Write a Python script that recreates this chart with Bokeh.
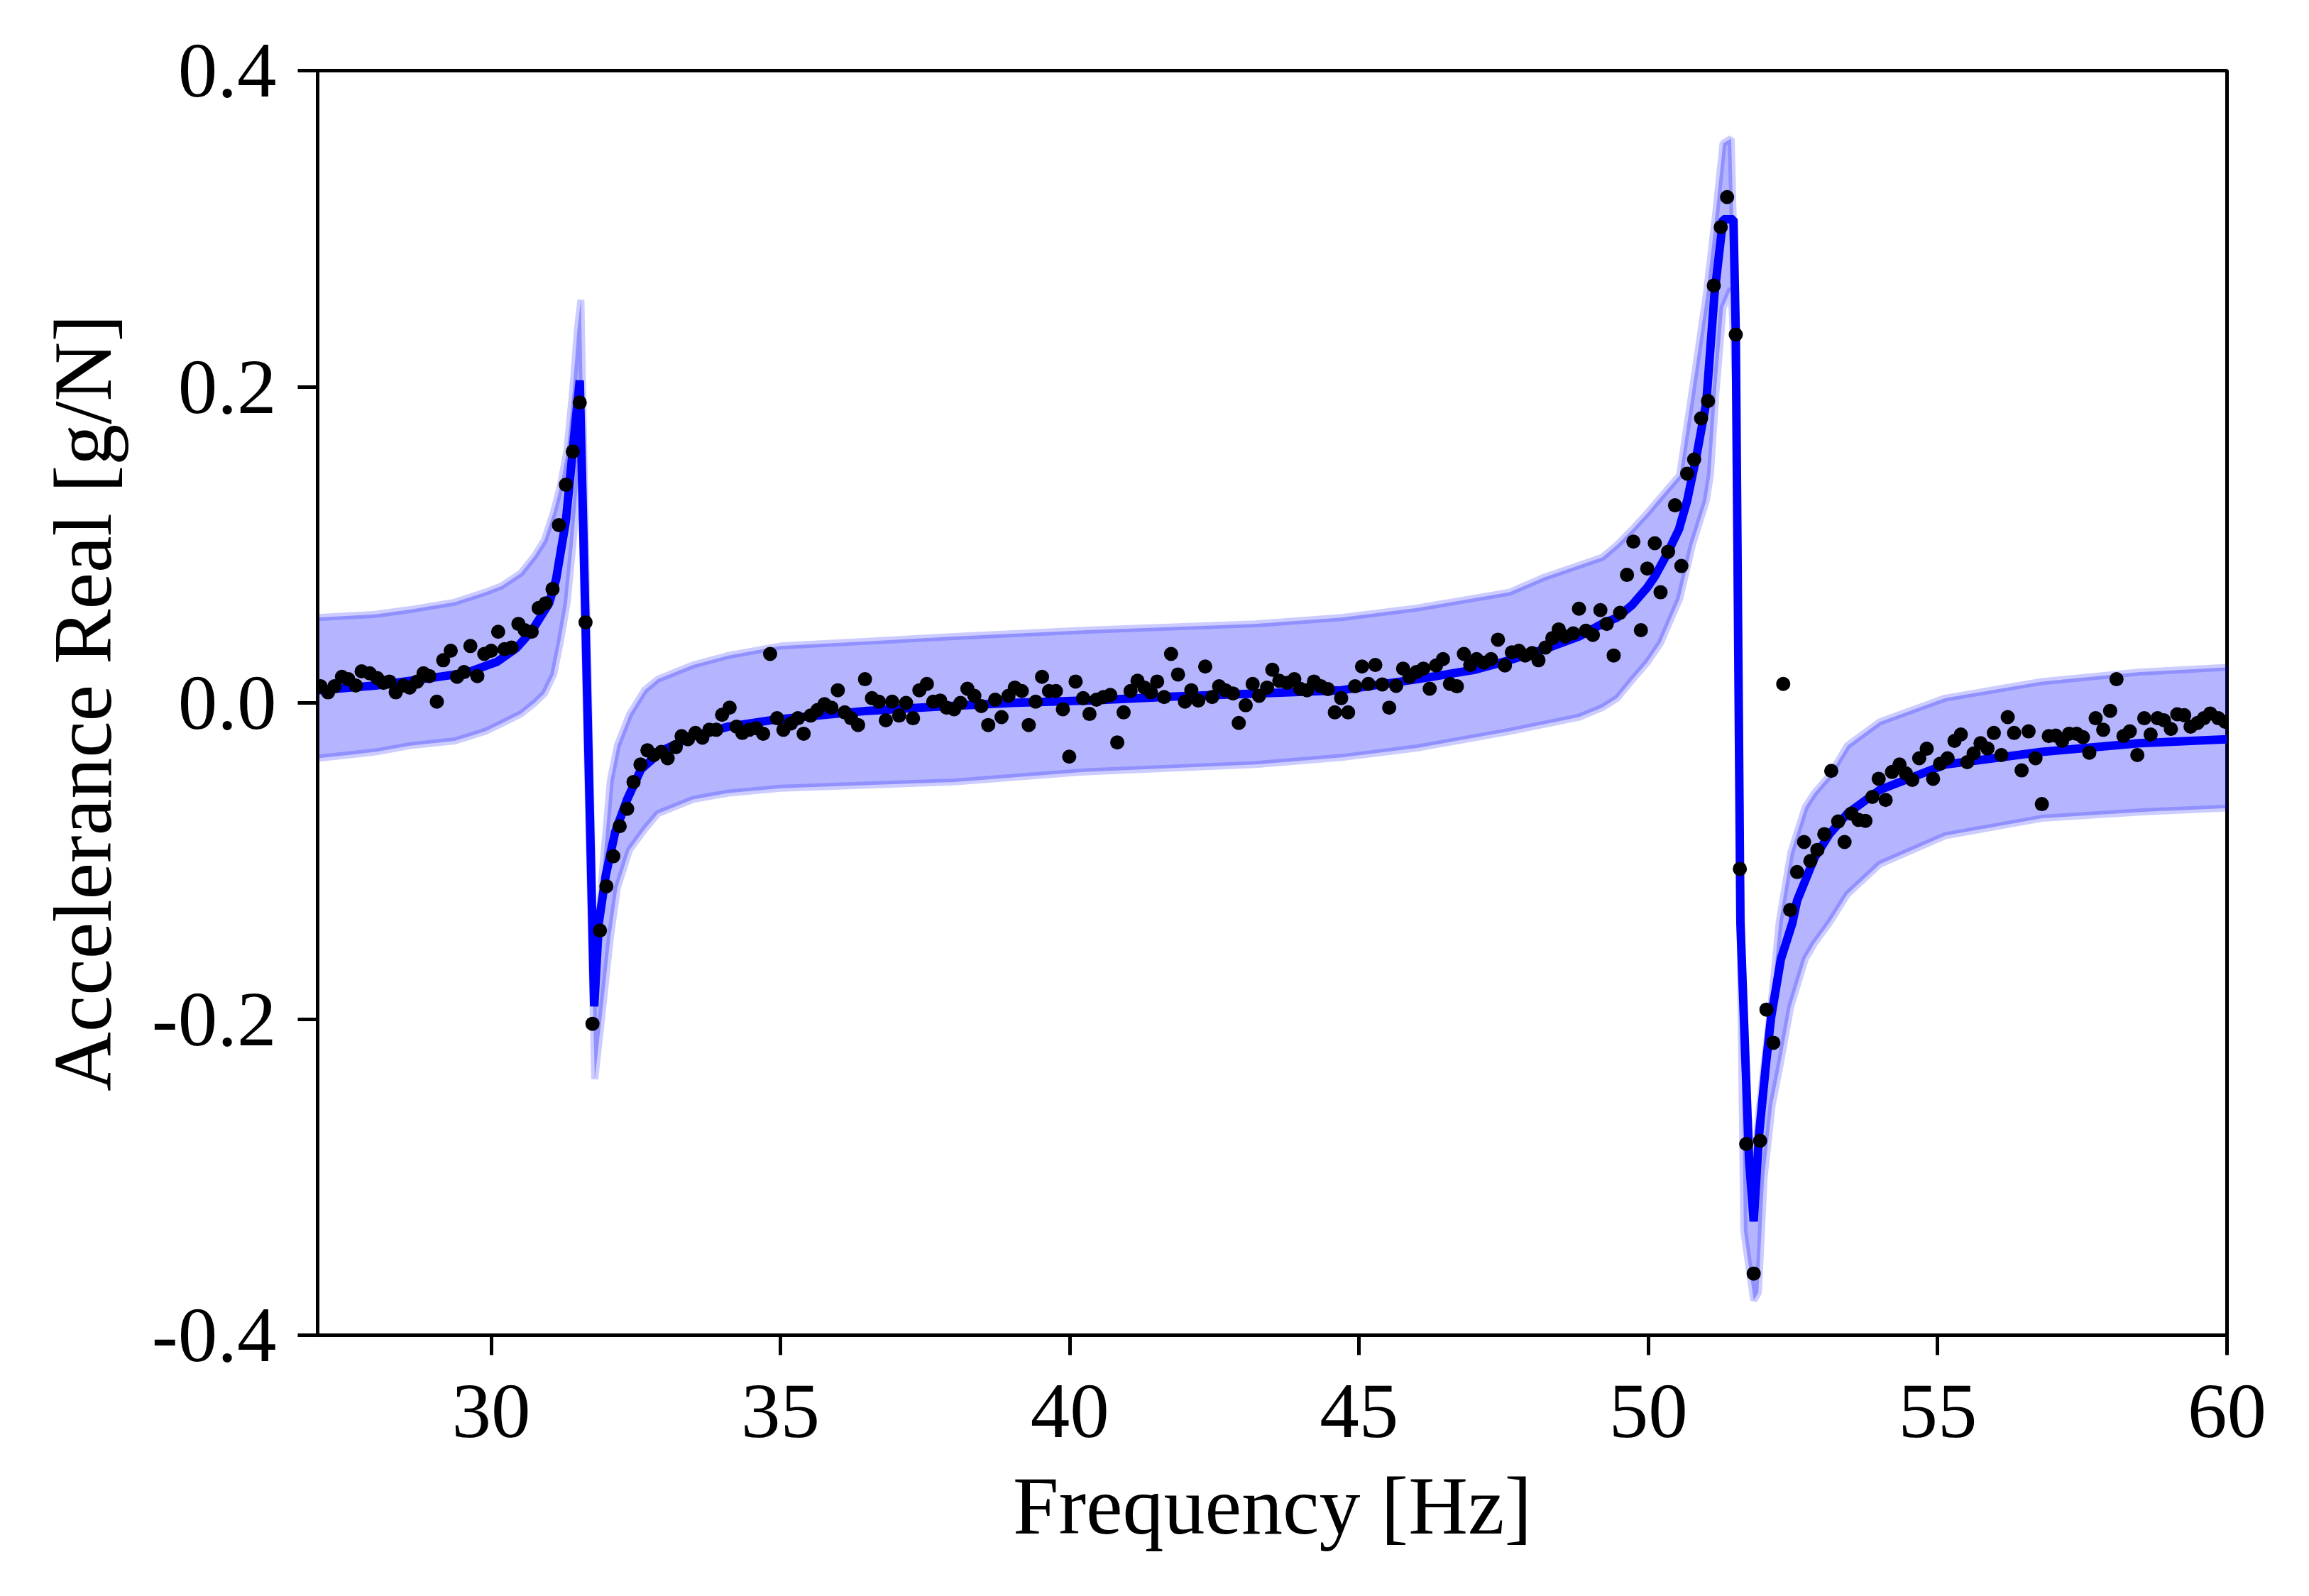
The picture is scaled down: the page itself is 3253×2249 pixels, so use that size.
from bokeh.plotting import figure
from bokeh.models import Range1d, FixedTicker, PrintfTickFormatter
from bokeh.embed import file_html
from bokeh.resources import INLINE

# ---------------- data ----------------
freq = [27.05, 27.18, 27.29, 27.42, 27.53, 27.66, 27.76, 27.90, 28.03, 28.14, 28.24, 28.35, 28.48, 28.59,
        28.72, 28.83, 28.93, 29.06, 29.17, 29.30, 29.41, 29.53, 29.64, 29.76, 29.88, 30.00, 30.12, 30.23,
        30.35, 30.47, 30.58, 30.70, 30.82, 30.94, 31.06, 31.17, 31.29, 31.41, 31.53, 31.63, 31.75, 31.88,
        31.99, 32.11, 32.22, 32.35, 32.46, 32.58, 32.70, 32.81, 32.94, 33.05, 33.19, 33.29, 33.40, 33.53,
        33.65, 33.77, 33.89, 33.99, 34.12, 34.24, 34.34, 34.46, 34.58, 34.70, 34.82, 34.94, 35.05, 35.18,
        35.30, 35.40, 35.52, 35.64, 35.76, 35.88, 35.99, 36.11, 36.22, 36.34, 36.46, 36.58, 36.70, 36.82,
        36.93, 37.05, 37.17, 37.29, 37.40, 37.53, 37.64, 37.76, 37.87, 38.00, 38.11, 38.23, 38.35, 38.47,
        38.59, 38.71, 38.82, 38.94, 39.05, 39.17, 39.29, 39.41, 39.52, 39.64, 39.76, 39.88, 39.99, 40.10,
        40.23, 40.34, 40.46, 40.58, 40.70, 40.82, 40.93, 41.05, 41.17, 41.29, 41.40, 41.51, 41.63, 41.75,
        41.87, 41.99, 42.10, 42.22, 42.34, 42.46, 42.58, 42.69, 42.82, 42.92, 43.04, 43.16, 43.27, 43.41,
        43.50, 43.62, 43.76, 43.88, 43.98, 44.10, 44.22, 44.34, 44.46, 44.58, 44.69, 44.81, 44.93, 45.05,
        45.16, 45.28, 45.40, 45.52, 45.64, 45.76, 45.87, 45.99, 46.11, 46.22, 46.33, 46.45, 46.57, 46.69,
        46.81, 46.92, 47.03, 47.16, 47.28, 47.40, 47.52, 47.64, 47.76, 47.87, 47.99, 48.10, 48.22, 48.34,
        48.45, 48.56, 48.70, 48.80, 48.92, 49.04, 49.17, 49.28, 49.40, 49.51, 49.63, 49.74, 49.87, 49.98,
        50.11, 50.21, 50.34, 50.46, 50.57, 50.67, 50.79, 50.91, 51.03, 51.13, 51.25, 51.36, 51.51, 51.58,
        51.69, 51.82, 51.93, 52.04, 52.16, 52.33, 52.45, 52.57, 52.69, 52.80, 52.92, 53.04, 53.16, 53.28,
        53.39, 53.51, 53.63, 53.75, 53.87, 53.98, 54.10, 54.21, 54.34, 54.45, 54.56, 54.68, 54.81, 54.92,
        55.04, 55.17, 55.29, 55.40, 55.51, 55.62, 55.74, 55.86, 55.97, 56.10, 56.21, 56.32, 56.45, 56.57,
        56.69, 56.80, 56.92, 57.04, 57.15, 57.27, 57.40, 57.51, 57.62, 57.73, 57.86, 57.98, 58.09, 58.21,
        58.32, 58.45, 58.57, 58.68, 58.80, 58.91, 59.03, 59.14, 59.26, 59.37, 59.49, 59.60, 59.71, 59.85,
        59.97]
accel = [0.0105, 0.0067, 0.0105, 0.0165, 0.015, 0.011, 0.020, 0.0187, 0.0157, 0.0127, 0.0135, 0.0067, 0.011, 0.0097,
         0.0135, 0.0187, 0.017, 0.0008, 0.027, 0.033, 0.0165, 0.0195, 0.036, 0.017, 0.031, 0.033, 0.045, 0.034,
         0.035, 0.050, 0.046, 0.045, 0.060, 0.063, 0.072, 0.1125, 0.138, 0.159, 0.190, 0.051, -0.203, -0.144,
         -0.116, -0.097, -0.078, -0.067, -0.050, -0.039, -0.030, -0.033, -0.031, -0.035, -0.028, -0.021, -0.023, -0.019,
         -0.022, -0.017, -0.017, -0.0075, -0.003, -0.015, -0.019, -0.017, -0.016, -0.0195, 0.031, -0.0097, -0.017, -0.013,
         -0.0097, -0.0195, -0.008, -0.0045, -0.0008, -0.003, 0.008, -0.006, -0.0097, -0.014, 0.015, 0.003, 0.0008, -0.011,
         0.0008, -0.008, 0.0, -0.0097, 0.008, 0.012, 0.0008, 0.0015, -0.003, -0.004, 0.0, 0.009, 0.0045, -0.002,
         -0.014, 0.002, -0.009, 0.0045, 0.0097, 0.0075, -0.014, 0.0008, 0.0165, 0.0075, 0.0075, -0.004, -0.034, 0.0135,
         0.003, -0.007, 0.002, 0.0037, 0.005, -0.025, -0.006, 0.0075, 0.014, 0.0097, 0.0067, 0.0135, 0.0037, 0.031,
         0.018, 0.0008, 0.008, 0.0015, 0.023, 0.0037, 0.0105, 0.008, 0.006, -0.0127, -0.0015, 0.012, 0.0045, 0.0097,
         0.021, 0.014, 0.0127, 0.015, 0.009, 0.008, 0.0135, 0.0105, 0.0087, -0.006, 0.003, -0.006, 0.0105, 0.023,
         0.012, 0.024, 0.0117, -0.003, 0.0108, 0.0217, 0.0165, 0.0195, 0.0217, 0.009, 0.0237, 0.0277, 0.012, 0.0105,
         0.031, 0.024, 0.0277, 0.0255, 0.0277, 0.040, 0.0237, 0.032, 0.033, 0.030, 0.0315, 0.027, 0.035, 0.041,
         0.0465, 0.042, 0.044, 0.0596, 0.0457, 0.043, 0.0587, 0.050, 0.030, 0.057, 0.081, 0.102, 0.046, 0.085,
         0.101, 0.070, 0.0956, 0.125, 0.0866, 0.145, 0.154, 0.180, 0.191, 0.264, 0.301, 0.320, 0.233, -0.105,
         -0.279, -0.361, -0.277, -0.194, -0.215, 0.012, -0.131, -0.107, -0.088, -0.100, -0.093, -0.083, -0.043, -0.075,
         -0.088, -0.070, -0.074, -0.0746, -0.0595, -0.048, -0.0614, -0.0437, -0.039, -0.0446, -0.0487, -0.035, -0.029, -0.048,
         -0.0385, -0.035, -0.024, -0.020, -0.0375, -0.032, -0.0255, -0.0288, -0.019, -0.033, -0.009, -0.019, -0.0427, -0.018,
         -0.035, -0.064, -0.021, -0.0207, -0.024, -0.0195, -0.0195, -0.0217, -0.0315, -0.0097, -0.017, -0.005, 0.015, -0.021,
         -0.018, -0.033, -0.0097, -0.020, -0.0097, -0.011, -0.0165, -0.0072, -0.0078, -0.015, -0.0127, -0.0097, -0.0067, -0.0097,
         -0.012]

# fitted model curve
fit_freq = [27.0, 28.0, 28.5, 29.0, 29.57, 30.1, 30.43, 30.71, 31.0, 31.12, 31.29, 31.41, 31.53, 31.63,
            31.78, 31.86, 31.98, 32.14, 32.35, 32.59, 32.96, 33.49, 34.1, 34.92, 36.5, 37.66, 39.0, 40.31,
            41.8, 43.24, 44.69, 46.0, 47.0, 47.6, 48.2, 48.8, 49.2, 49.46, 49.72, 49.98, 50.11, 50.32, 50.53,
            50.67, 50.83, 51.0, 51.14, 51.29, 51.47, 51.51, 51.59, 51.74, 51.82, 51.91, 52.03, 52.12, 52.29,
            52.49, 52.57, 52.87, 53.13, 53.44, 54.0, 55.13, 56.8, 58.49, 60.0]
fit_accel = [0.008, 0.011, 0.0135, 0.016, 0.019, 0.026, 0.0345, 0.046, 0.063, 0.078, 0.115, 0.160, 0.204, 0.050,
             -0.192, -0.139, -0.109, -0.082, -0.061, -0.042, -0.030, -0.021, -0.015, -0.0105, -0.005, -0.0025, 0.0, 0.0015,
             0.004, 0.006, 0.008, 0.015, 0.021, 0.027, 0.034, 0.042, 0.050, 0.054, 0.062, 0.073, 0.080, 0.094, 0.110,
             0.128, 0.156, 0.190, 0.258, 0.306, 0.306, 0.234, -0.139, -0.289, -0.328, -0.274, -0.229, -0.199, -0.162,
             -0.139, -0.125, -0.098, -0.083, -0.070, -0.055, -0.039, -0.031, -0.0255, -0.023]

# uncertainty band
band_freq = [27.0, 28.0, 28.6, 29.37, 29.9, 30.18, 30.51, 30.75, 30.92, 31.08, 31.2, 31.31, 31.41, 31.49,
             31.55, 31.65, 31.79, 31.92, 32.06, 32.18, 32.39, 32.65, 32.88, 33.49, 34.1, 35.0, 36.5, 38.0,
             40.3, 43.2, 44.7, 46.0, 47.6, 48.2, 48.8, 49.2, 49.46, 49.73, 49.98, 50.21, 50.54, 50.76, 51.0,
             51.07, 51.17, 51.29, 51.43, 51.51, 51.59, 51.65, 51.82, 51.9, 52.0, 52.14, 52.26, 52.46, 52.71,
             52.87, 53.13, 53.44, 54.0, 55.13, 56.8, 58.5, 60.0]
band_upper = [0.054, 0.056, 0.059, 0.0637, 0.070, 0.074, 0.082, 0.093, 0.103, 0.121, 0.138, 0.160, 0.198, 0.236,
              0.255, 0.06, -0.18, -0.108, -0.049, -0.027, -0.0075, 0.008, 0.015, 0.024, 0.030, 0.036, 0.039, 0.042,
              0.046, 0.050, 0.054, 0.060, 0.070, 0.0795, 0.087, 0.092, 0.100, 0.110, 0.120, 0.130, 0.144, 0.198, 0.258,
              0.28, 0.312, 0.354, 0.357, 0.24, -0.10, -0.22, -0.31, -0.262, -0.229, -0.184, -0.139, -0.095, -0.066,
              -0.057, -0.046, -0.027, -0.012, 0.003, 0.0135, 0.0195, 0.0225]
band_lower = [-0.035, -0.031, -0.027, -0.024, -0.018, -0.013, -0.007, 0.000, 0.006, 0.018, 0.040, 0.063, 0.10, 0.135,
              0.16, -0.02, -0.238, -0.195, -0.148, -0.117, -0.093, -0.080, -0.070, -0.061, -0.057, -0.054, -0.052, -0.050,
              -0.0435, -0.039, -0.0345, -0.0285, -0.018, -0.0135, -0.009, -0.003, 0.003, 0.015, 0.0256, 0.038, 0.066, 0.100, 0.128,
              0.144, 0.198, 0.25, 0.262, 0.2, -0.16, -0.334, -0.378, -0.373, -0.30, -0.254, -0.232, -0.192, -0.162,
              -0.152, -0.139, -0.121, -0.102, -0.084, -0.073, -0.069, -0.0665]

x_ticks = [30, 35, 40, 45, 50, 55, 60]
y_ticks = [-0.4, -0.2, 0.0, 0.2, 0.4]

# ---------------- figure ----------------
FONT = "Liberation Serif"
W, H = 3237, 2233
p = figure(width=W, height=H, output_backend="svg", toolbar_location=None,
           x_range=Range1d(27, 60), y_range=Range1d(-0.4, 0.4),
           x_axis_label="Frequency [Hz]", y_axis_label="Accelerance Real [g/N]",
           min_border_left=447, min_border_right=W - 3137, min_border_top=99, min_border_bottom=H - 1881)

p.grid.visible = False
p.outline_line_color = "black"
p.outline_line_width = 5
p.background_fill_color = "white"
p.border_fill_color = "white"

for ax in (p.xaxis[0], p.yaxis[0]):
    ax.axis_line_width = 5
    ax.axis_line_color = "black"
    ax.major_tick_line_width = 5
    ax.major_tick_out = 28
    ax.major_tick_in = 0
    ax.minor_tick_line_color = None
    ax.major_label_text_font = FONT
    ax.major_label_text_font_size = "111px"
    ax.major_label_text_color = "black"
    ax.axis_label_text_font = FONT
    ax.axis_label_text_font_size = "116px"
    ax.axis_label_text_font_style = "normal"
    ax.axis_label_text_color = "black"

p.xaxis.ticker = FixedTicker(ticks=x_ticks)
p.yaxis.ticker = FixedTicker(ticks=y_ticks)
p.yaxis.formatter = PrintfTickFormatter(format="%.1f")
p.xaxis.major_label_standoff = 42
p.yaxis.major_label_standoff = 30
p.xaxis.axis_label_standoff = 30
p.yaxis.axis_label_standoff = 30

# band
p.varea(x=band_freq, y1=band_lower, y2=band_upper, fill_color="#0000ff", fill_alpha=0.29)
p.line(band_freq, band_upper, line_color="#0000ff", line_alpha=0.2, line_width=10)
p.line(band_freq, band_lower, line_color="#0000ff", line_alpha=0.2, line_width=10)

# fitted curve
p.line(fit_freq, fit_accel, line_color="#0000ff", line_width=12)

# measurements
p.scatter(freq, accel, size=20, fill_color="black", line_color="black", line_width=0)

open("out.html", "w").write(file_html(p, INLINE))
